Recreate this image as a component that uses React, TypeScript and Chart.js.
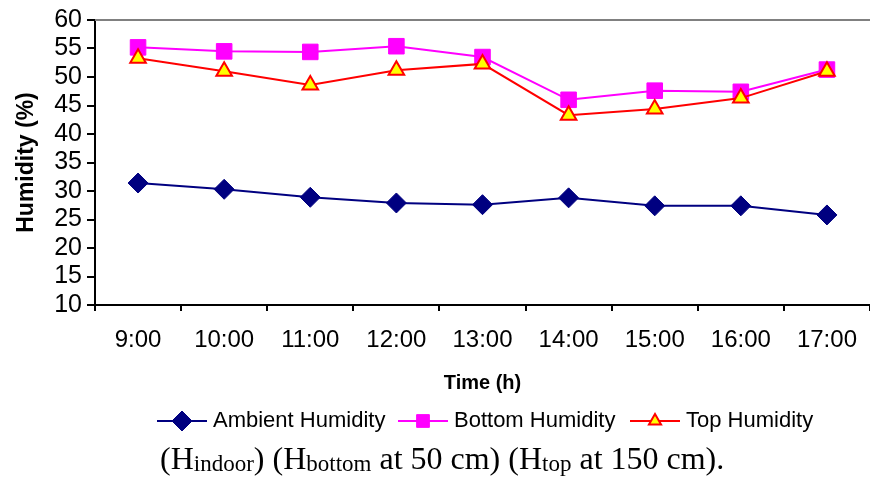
import React, { useEffect, useRef } from 'react';
import { Chart, registerables } from 'chart.js';
import { drawPoint } from 'chart.js/helpers';

Chart.register(...registerables);

const timeLabels = ['9:00', '10:00', '11:00', '12:00', '13:00', '14:00', '15:00', '16:00', '17:00'];
const ambientHumidity = [31.4, 30.3, 28.9, 27.9, 27.6, 28.8, 27.4, 27.4, 25.8];
const bottomHumidity = [55.2, 54.5, 54.4, 55.4, 53.5, 46.0, 47.6, 47.4, 51.3];
const topHumidity = [53.3, 51.0, 48.6, 51.2, 52.3, 43.3, 44.4, 46.3, 51.0];
const seriesNames = ['Ambient Humidity', 'Bottom Humidity', 'Top Humidity'];
const yMin = 10;
const yMax = 60;
const yStep = 5;
const xTitle = 'Time (h)';
const yTitle = 'Humidity (%)';

const SANS = '"Liberation Sans", Arial, sans-serif';

const topBorderPlugin = {
  id: 'topBorder',
  afterDraw(chart: any) {
    const { ctx, chartArea } = chart;
    ctx.save();
    ctx.strokeStyle = '#808080';
    ctx.lineWidth = 2;
    ctx.beginPath();
    ctx.moveTo(chartArea.left, chartArea.top);
    ctx.lineTo(chartArea.right, chartArea.top);
    ctx.stroke();
    ctx.restore();
  },
};

const legendStarts = [157, 398, 630];
const legendPlugin = {
  id: 'customLegend',
  afterDraw(chart: any) {
    const ctx = chart.ctx;
    const y = 421;
    ctx.save();
    chart.data.datasets.forEach((ds: any, i: number) => {
      const x0 = legendStarts[i];
      ctx.strokeStyle = ds.borderColor;
      ctx.lineWidth = 2;
      ctx.beginPath();
      ctx.moveTo(x0, y);
      ctx.lineTo(x0 + 50, y);
      ctx.stroke();
      ctx.fillStyle = ds.pointBackgroundColor;
      ctx.strokeStyle = ds.pointBorderColor;
      ctx.lineWidth = ds.pointBorderWidth;
      drawPoint(ctx, { pointStyle: ds.pointStyle, radius: ds.legendRadius, rotation: 0, borderWidth: ds.pointBorderWidth }, x0 + 25, y);
      ctx.fillStyle = '#000';
      ctx.font = '22px ' + SANS;
      ctx.textBaseline = 'middle';
      ctx.textAlign = 'left';
      ctx.fillText(ds.label, x0 + 56, y);
    });
    ctx.restore();
  },
};

export default function App() {
  const ref = useRef<HTMLCanvasElement>(null);
  useEffect(() => {
    const chart = new Chart(ref.current!, {
      type: 'line',
      data: {
        labels: timeLabels,
        datasets: [
          {
            label: seriesNames[0],
            data: ambientHumidity,
            borderColor: '#000080',
            backgroundColor: '#000080',
            pointBackgroundColor: '#000080',
            pointBorderColor: '#000080',
            pointBorderWidth: 1,
            pointStyle: 'rectRot',
            pointRadius: 10,
            legendRadius: 10,
            borderWidth: 2,
            tension: 0,
            order: 2,
          } as any,
          {
            label: seriesNames[1],
            data: bottomHumidity,
            borderColor: '#FF00FF',
            backgroundColor: '#FF00FF',
            pointBackgroundColor: '#FF00FF',
            pointBorderColor: '#FF00FF',
            pointBorderWidth: 1,
            pointStyle: 'rect',
            pointRadius: 11,
            legendRadius: 9,
            borderWidth: 2,
            tension: 0,
            order: 1,
          } as any,
          {
            label: seriesNames[2],
            data: topHumidity,
            borderColor: '#FF0000',
            backgroundColor: '#FFFF00',
            pointBackgroundColor: '#FFFF00',
            pointBorderColor: '#FF0000',
            pointBorderWidth: 2,
            pointStyle: 'triangle',
            pointRadius: 9,
            legendRadius: 7,
            borderWidth: 2,
            tension: 0,
            order: 0,
          } as any,
        ],
      },
      options: {
        animation: false,
        responsive: false,
        layout: { autoPadding: false, padding: { left: 0, right: 0, top: 19, bottom: 83 } },
        plugins: { legend: { display: false }, tooltip: { enabled: false } },
        scales: {
          x: {
            offset: true,
            grid: { offset: true, drawOnChartArea: false, tickLength: 6, color: '#000', lineWidth: 2 },
            border: { color: '#000', width: 2 },
            ticks: { color: '#000', font: { size: 24, family: SANS }, padding: 15, maxRotation: 0, autoSkip: false },
            title: { display: true, text: xTitle, color: '#000', font: { size: 20, weight: 'bold', family: SANS }, padding: { top: 0, bottom: 0 } },
            afterFit(s: any) { s.height = 90; s.paddingLeft = 0; s.paddingRight = 0; },
          },
          y: {
            min: yMin,
            max: yMax,
            ticks: { stepSize: yStep, color: '#000', font: { size: 25, family: SANS }, padding: 5, autoSkip: false },
            grid: { drawOnChartArea: false, tickLength: 8, color: '#000', lineWidth: 2 },
            border: { color: '#000', width: 2 },
            title: { display: true, text: yTitle, color: '#000', font: { size: 23, weight: 'bold', family: SANS }, padding: { top: 13, bottom: 0 } },
            afterFit(s: any) { s.width = 95; },
          },
        },
      } as any,
      plugins: [topBorderPlugin, legendPlugin],
    });
    return () => chart.destroy();
  }, []);

  const sub = { fontSize: 23, verticalAlign: '-2px' } as React.CSSProperties;
  return (
    <div style={{ position: 'fixed', left: 0, top: 0, width: 870, height: 478, background: '#fff' }}>
      <canvas ref={ref} width={870} height={478} style={{ display: 'block' }} />
      <div
        style={{
          position: 'absolute',
          left: 160,
          top: 440,
          fontFamily: '"Liberation Serif", "Times New Roman", serif',
          fontSize: 32,
          lineHeight: '36px',
          whiteSpace: 'nowrap',
          color: '#000',
        }}
      >
        (H<span style={sub}>indoor</span>) (H<span style={sub}>bottom</span> at 50 cm) (H<span style={sub}>top</span> at 150 cm).
      </div>
    </div>
  );
}
